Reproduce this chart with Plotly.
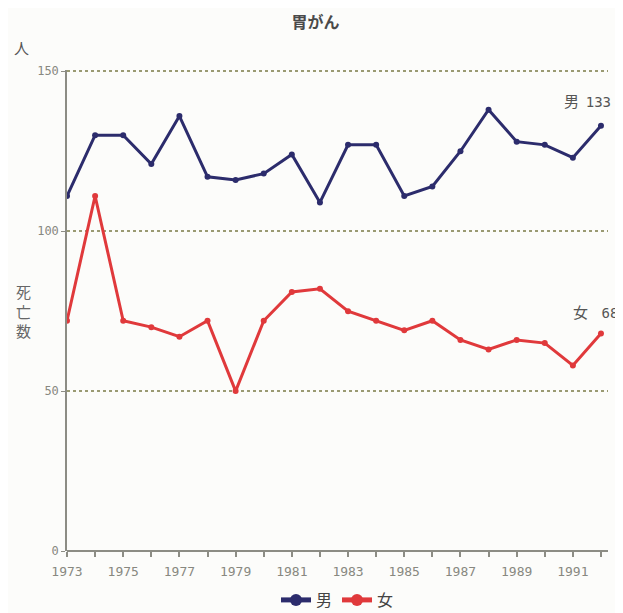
import plotly.graph_objects as go

years = list(range(1973, 1993))
men = [111, 130, 130, 121, 136, 117, 116, 118, 124, 109, 127, 127, 111, 114, 125, 138, 128, 127, 123, 133]
women = [72, 111, 72, 70, 67, 72, 50, 72, 81, 82, 75, 72, 69, 72, 66, 63, 66, 65, 58, 68]
xtick_labels = [str(y) if y % 2 == 1 else "" for y in years]
ytick_vals = [0, 50, 100, 150]
ytick_labels = ["0", "50", "100", "150"]

NAVY = "#2c2c6c"
RED = "#e0393b"
GRAY = "#8c8c84"
BG = "#fcfcfa"

W, H = 615, 620
L, R, T, B = 59, 15, 62, 76
PH = H - T - B

fig = go.Figure()
fig.add_trace(go.Scatter(x=years, y=men, mode="lines+markers", name="男",
                         line=dict(color=NAVY, width=3), marker=dict(size=6, color=NAVY)))
fig.add_trace(go.Scatter(x=years, y=women, mode="lines+markers", name="女",
                         line=dict(color=RED, width=3), marker=dict(size=6, color=RED)))

fig.update_layout(
    width=W, height=H,
    margin=dict(l=L, r=R, t=T, b=B),
    paper_bgcolor=BG, plot_bgcolor=BG,
    title=dict(text="<b>胃がん</b>", x=0.5, xanchor="center", y=1 - 14 / H, yanchor="middle",
               font=dict(family="Noto Sans CJK JP", size=16, color="#4a4a4a")),
    showlegend=True,
    legend=dict(orientation="h", x=0.5, xanchor="center", y=-(592 - (H - B)) / PH, yanchor="middle",
                font=dict(family="Noto Sans CJK JP", size=16, color="#444444"),
                itemwidth=30, tracegroupgap=0, itemsizing="constant",
                bgcolor="rgba(0,0,0,0)"),
    font=dict(family="DejaVu Sans Mono", color="#777777"),
)
fig.update_xaxes(range=[1973, 1992.25], tickvals=years, ticktext=xtick_labels,
                 showgrid=False, zeroline=False, showline=False,
                 ticks="outside", ticklen=5, tickcolor=GRAY, tickwidth=1.5,
                 ticklabelstandoff=3,
                 tickfont=dict(family="DejaVu Sans Mono", size=13, color="#888880"))
fig.update_yaxes(range=[0, 150.4], tickvals=ytick_vals, ticktext=ytick_labels,
                 showgrid=True, gridcolor="#9a9a72", griddash="dot", gridwidth=1.5,
                 zeroline=True, zerolinecolor=GRAY, zerolinewidth=1.5,
                 showline=True, linecolor=GRAY, linewidth=1.5,
                 ticks="outside", ticklen=4, tickcolor=GRAY,
                 tickfont=dict(family="DejaVu Sans Mono", size=12, color="#888880"))

fig.add_annotation(xref="paper", yref="paper", x=-0.085, y=1.046, text="人", showarrow=False,
                   xanchor="center", yanchor="middle",
                   font=dict(family="Noto Sans CJK JP", size=15, color="#555555"))
fig.add_annotation(xref="paper", yref="paper", x=-0.08, y=0.50, text="死<br>亡<br>数", showarrow=False,
                   xanchor="center", yanchor="middle",
                   font=dict(family="Noto Sans CJK JP", size=15, color="#666666"))
fig.add_annotation(x=years[-1], y=men[-1] + 8,
                   text="男&nbsp;&nbsp;<span style='font-family:DejaVu Sans Mono;font-size:14px'>%d</span>" % men[-1],
                   showarrow=False, xanchor="right", xshift=12,
                   font=dict(family="Noto Sans CJK JP", size=15, color="#555555"))
fig.add_annotation(x=years[-1], y=women[-1] + 7,
                   text="女&nbsp;&nbsp;&nbsp;&nbsp;<span style='font-family:DejaVu Sans Mono;font-size:14px'>%d</span>" % women[-1],
                   showarrow=False, xanchor="left", xshift=-30,
                   font=dict(family="Noto Sans CJK JP", size=15, color="#555555"))

fig.write_html("out.html")
